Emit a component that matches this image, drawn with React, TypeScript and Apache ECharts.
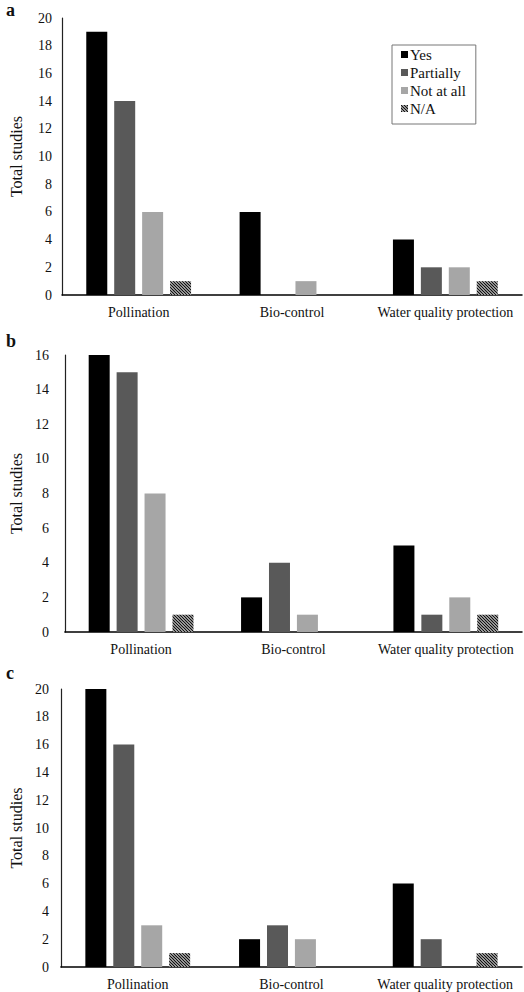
import React, { useEffect, useRef } from "react";
import * as echarts from "echarts";

const categories = ["Pollination", "Bio-control", "Water quality protection"];
const seriesNames = ["Yes", "Partially", "Not at all", "N/A"];
const panelLabels = ["a", "b", "c"];
const yMax = [20, 16, 20];

const panelA = {
  yes: [19, 6, 4],
  partially: [14, 0, 2],
  notAtAll: [6, 1, 2],
  na: [1, 0, 1],
};
const panelB = {
  yes: [16, 2, 5],
  partially: [15, 4, 1],
  notAtAll: [8, 1, 2],
  na: [1, 0, 1],
};
const panelC = {
  yes: [20, 2, 6],
  partially: [16, 3, 2],
  notAtAll: [3, 2, 0],
  na: [1, 0, 1],
};
const panels = [panelA, panelB, panelC];

const FONT = "Liberation Serif";

function makeHatch() {
  const c = document.createElement("canvas");
  c.width = 6;
  c.height = 6;
  const ctx = c.getContext("2d")!;
  ctx.fillStyle = "#ffffff";
  ctx.fillRect(0, 0, 6, 6);
  ctx.strokeStyle = "#111111";
  ctx.lineWidth = 1.3;
  for (const k of [-6, -3, 0, 3, 6]) {
    ctx.beginPath();
    ctx.moveTo(-1, -1 + k);
    ctx.lineTo(7, 7 + k);
    ctx.stroke();
  }
  return c;
}

export default function App() {
  const ref = useRef<HTMLDivElement>(null);
  useEffect(() => {
    if (!ref.current) return;
    const chart = echarts.init(ref.current, undefined, { renderer: "svg" });
    const hatch = { image: makeHatch(), repeat: "repeat" } as any;
    const colors = ["#000000", "#595959", "#a6a6a6", hatch];

    const grids = [
      { left: 59, top: 18, width: 463, height: 277 },
      { left: 54, top: 355, width: 468, height: 277 },
      { left: 52, top: 689, width: 470, height: 278 },
    ];
    const nameGaps = [38, 32, 34];
    const labelMargins = [10, 16, 12];

    const xAxis = grids.map((_, i) => ({
      type: "category",
      gridIndex: i,
      data: categories,
      axisLine: { lineStyle: { color: "#000", width: 1.5 } },
      axisTick: { show: false },
      axisLabel: { interval: 0, fontFamily: FONT, fontSize: 14, color: "#111", margin: 10 },
    }));
    const yAxis = grids.map((_, i) => ({
      type: "value",
      gridIndex: i,
      min: 0,
      max: yMax[i],
      interval: 2,
      name: "Total studies",
      nameLocation: "middle",
      nameGap: nameGaps[i],
      nameTextStyle: { fontFamily: FONT, fontSize: 16, color: "#111" },
      axisLine: { show: true, lineStyle: { color: "#222", width: 1.2 } },
      axisTick: { show: false },
      splitLine: { show: false },
      axisLabel: { fontFamily: FONT, fontSize: 14, color: "#111", margin: labelMargins[i] },
    }));

    const keys = ["yes", "partially", "notAtAll", "na"] as const;
    const series: any[] = [];
    panels.forEach((p, i) => {
      keys.forEach((k, j) => {
        series.push({
          type: "bar",
          name: seriesNames[j],
          xAxisIndex: i,
          yAxisIndex: i,
          data: (p as any)[k],
          barWidth: 21,
          barGap: "33%",
          itemStyle: { color: colors[j] },
        });
      });
    });

    chart.setOption({
      animation: false,
      grid: grids.map((g) => ({ ...g, containLabel: false })),
      xAxis,
      yAxis,
      legend: {
        orient: "vertical",
        left: 392,
        top: 45,
        width: 76,
        padding: [2, 10, 8, 9],
        data: seriesNames,
        itemWidth: 7,
        itemHeight: 7,
        itemGap: 3,
        borderColor: "#777",
        borderWidth: 1,
        icon: "rect",
        selectedMode: false,
        textStyle: { fontFamily: FONT, fontSize: 15, color: "#111", padding: [0, 0, 0, -3] },
      },
      graphic: panelLabels.map((t, i) => ({
        type: "text",
        left: 6,
        top: [1, 332, 664][i],
        style: {
          text: t,
          font: `bold 18px ${FONT}`,
          fill: "#111",
        },
      })),
      series,
    });
    return () => chart.dispose();
  }, []);
  return (
    <div
      ref={ref}
      style={{ position: "fixed", left: 0, top: 0, width: 524, height: 992, background: "#fff" }}
    />
  );
}
